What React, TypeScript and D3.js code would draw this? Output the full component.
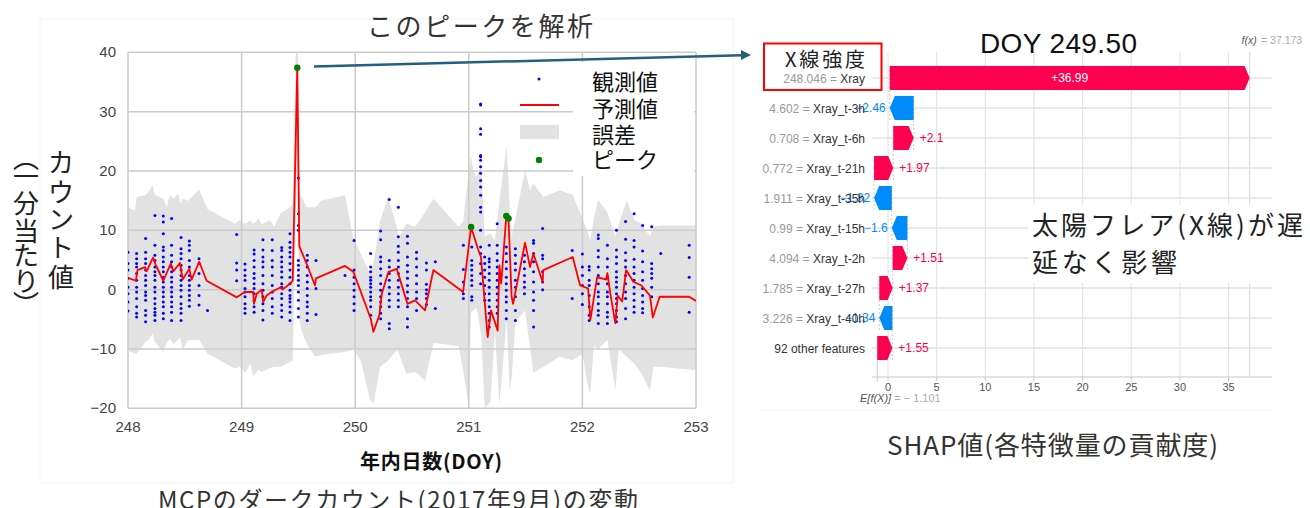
import React from 'react';
import * as d3 from 'd3';

// ---------- Left chart data ----------
const xTicks = [248, 249, 250, 251, 252, 253];
const yTicks = [-20, -10, 0, 10, 20, 30, 40];

const obsDoy = [248.0, 248.076, 248.155, 248.237, 248.311, 248.384, 248.467, 248.54, 248.625, 248.7,
  248.957, 249.03, 249.11, 249.188, 249.27, 249.353, 249.426, 249.5, 249.578, 249.655,
  249.91, 249.99, 250.136, 250.224, 250.3, 250.38, 250.46, 250.54, 250.627, 250.705,
  250.952, 251.026, 251.104, 251.14, 251.18, 251.25, 251.33, 251.41, 251.49, 251.57,
  251.65, 251.91, 252.0, 252.06, 252.14, 252.22, 252.3, 252.38, 252.455, 252.53, 252.61, 252.69, 252.94];

const obsValues: number[][] = [
  [6.3, 4.4, 3.3, 1.9, 0.4, -0.7, -2.1, -3.6],
  [6.1, 5.2, 4.4, 3.8, 2.7, 1.6, 0.4, -0.4, -1.5, -2.9, -4.0, -4.6],
  [8.6, 6.3, 5.2, 4.4, 3.3, 2.4, 1.6, 0.7, -0.4, -1.0, -1.8, -3.5, -4.3, -5.4],
  [12.5, 7.5, 5.8, 4.9, 3.8, 3.0, 2.4, 1.6, 0.4, -0.4, -1.5, -2.4, -3.2, -3.8, -4.3, -5.2],
  [12.4, 11.4, 9.4, 7.2, 6.6, 5.5, 4.7, 3.8, 3.0, 2.1, 1.3, 0.4, -0.4, -1.2, -2.1, -2.9, -4.0, -4.9],
  [12.0, 7.5, 5.8, 4.7, 3.8, 3.0, 2.1, 1.3, 0.4, -0.4, -1.2, -2.1, -2.9, -3.8, -5.2],
  [8.8, 6.9, 6.1, 5.2, 4.1, 3.3, 2.4, 1.6, 0.7, -0.1, -1.2, -2.4, -3.2, -4.0, -5.2],
  [8.2, 7.5, 6.6, 4.9, 3.8, 2.4, 1.6, 0.7, -0.1, -1.0, -1.8, -2.8],
  [5.2, 4.4, 2.7, 0.7, -1.0, -2.6],
  [-3.5],
  [9.3, 4.5, 3.3, 1.5],
  [4.3, 3.3, 2.4, 1.6, 0.2, -0.4, -1.2, -2.4, -3.2, -4.0],
  [6.7, 6.0, 4.9, 3.8, 2.7, 1.9, 1.0, 0.2, -0.7, -1.8, -2.9, -3.8],
  [8.4, 6.7, 5.5, 4.7, 3.8, 2.4, 1.0, -0.1, -1.2, -2.4, -3.5, -5.1],
  [8.4, 6.6, 4.9, 3.8, 2.4, 0.7, -0.4, -1.5, -2.9, -4.0],
  [7.1, 6.6, 5.5, 4.7, 3.8, 3.0, 2.1, 1.0, 0.4, -0.7, -1.5, -2.6, -3.5, -4.6],
  [9.4, 8.0, 7.1, 6.3, 5.5, 4.4, 3.3, 2.1, 1.0, -0.1, -1.0, -1.5, -2.1, -2.9, -3.8, -5.2],
  [18.8, 12.8, 10.8, 10.0, 4.9, 4.1, 3.3, 2.4, 1.6, 0.7, -0.4, -1.8, -3.2, -4.6],
  [5.8, 4.9, 3.8, 2.4, 1.3, 0.2, -1.0, -2.1, -2.9, -4.0, -5.2],
  [4.9, 0.2, -4.2],
  [2.4],
  [8.3, 3.3, 2.1, 1.0, -0.1, -1.2, -2.4, -3.5],
  [6.1, 3.8, 3.0, 2.1, 1.6, 1.0, 0.4, -0.4, -1.2, -1.8, -2.9, -4.3],
  [9.9, 8.4, 5.5, 4.7, 3.5, 2.4, 1.0, -0.1, -1.2, -2.1, -2.9, -4.0, -4.9],
  [15.2, 4.9, 3.8, 2.7, 1.6, 0.4, -0.7, -1.8, -2.9, -5.7, -6.6],
  [13.9, 8.9, 7.3, 6.3, 4.9, 3.8, 2.7, 1.6, 0.4, -0.7, -1.8, -2.9],
  [9.0, 7.8, 5.5, 4.1, 3.0, 1.9, 0.7, -0.4, -1.5, -2.9, -4.9, -6.3],
  [6.3, 5.2, 3.8, 2.4, 1.0, -0.4, -1.5, -3.5],
  [4.5, 3.3, 0.9, 0, -0.7, -1.5, -2.5],
  [4.7, -3.2],
  [7.5, 3.4, 1.3, -0.7, -1.5],
  [7.2, 4.9, 4.1, 3.3, 2.4, 1.6, 0.7, -1.2, -1.8],
  [31.3, 31.1, 27.1, 26.2, 22.6, 22.4, 21.8, 20.7, 19.6, 18.4, 17.3, 15.9, 13.9, 13.1, 10.0, 7.2, 6.1, 4.4, 2.7, 1.0],
  [5.5, 4.4, 3.3, 2.1, 0.7, -0.7, -1.8],
  [7.5, 5.2, 4.7, 3.8, 2.7, 1.6, 0.4, -0.7, -1.8, -2.9, -4.0, -5.2, -6.3],
  [11.1, 7.5, 6.1, 4.9, 3.8, 2.7, 1.6, 0.4, -0.7, -1.8, -2.9, -4.0],
  [12.5, 7.2, 6.1, 4.7, 3.5, 2.1, 1.0, -0.1, -1.2, -2.1, -3.5, -4.9],
  [6.9, 5.8, 4.4, 3.3, 1.6, 0.4, -1.2, -3.5, -5.2],
  [5.8, 4.7, 3.5, 2.4, 1.3, 0.4, -0.7],
  [8.3, 7.8, 6.1, 4.7, 3.0, 1.3, -0.4, -1.8, -3.5, -6.3],
  [10.3, 5.8, 5.2, 3.0, 1.3, 0],
  [6.6, -1.5],
  [6.0, 3.8, 2.4, 0.7, -0.7, -2.5],
  [3.9, 3.3, 1.6, 0.7, -1.0, -2.9, -4.3, -5.2],
  [9.2, 8.6, 6.6, 5.5, 3.8, 2.4, 1.0, -0.4, -1.2, -2.4, -3.5, -4.3, -5.7],
  [7.5, 5.2, 3.8, 2.1, 1.0, -0.4, -1.2, -2.4, -3.8, -4.6, -5.7],
  [10.0, 6.7, 5.5, 4.4, 3.0, 2.1, 1.3, 0.4, -0.7, -1.5, -2.4, -3.5, -4.6, -5.4],
  [11.5, 8.5, 6.2, 4.9, 3.8, 2.4, 1.0, -0.4, -1.5, -3.2, -4.9],
  [12.8, 8.3, 7.2, 5.1, 3.8, 2.7, 1.6, 0.4, -0.7, -1.8, -2.9, -3.8],
  [10.8, 6.5, 4.7, 3.0, 1.6, 0.2, -1.0, -2.1, -3.2, -3.9],
  [10.6, 4.4, 3.5, 2.7, 1.9, 0.4, -1.2],
  [6.1],
  [7.5, 5.4, 2.1, -3.8],
];

const predDoy = [248.0, 248.07, 248.083, 248.15, 248.165, 248.22, 248.25, 248.311, 248.376, 248.4,
  248.458, 248.481, 248.54, 248.56, 248.627, 248.692, 248.957, 249.03, 249.103, 249.109,
  249.133, 249.177, 249.19, 249.22, 249.264, 249.343, 249.36, 249.426, 249.45, 249.49,
  249.508, 249.572, 249.646, 249.655, 249.91, 249.984, 250.137, 250.16, 250.213, 250.234,
  250.293, 250.366, 250.46, 250.527, 250.615, 250.688, 250.95, 251.02, 251.08, 251.107,
  251.166, 251.195, 251.254, 251.269, 251.285, 251.33, 251.35, 251.377, 251.39, 251.495,
  251.539, 251.568, 251.65, 251.656, 251.915, 251.98, 252.05, 252.07, 252.13, 252.21,
  252.22, 252.245, 252.29, 252.31, 252.35, 252.385, 252.45, 252.52, 252.595, 252.62,
  252.68, 252.94, 253.0];
const predVal = [2.0, 1.5, 3.3, 3.8, 3.1, 5.4, 3.9, 1.5, 4.4, 3.1,
  4.5, 1.7, 3.5, 1.7, 4.7, 1.5, -1.3, -0.4, -0.4, -2.4,
  -0.7, 0, -2.1, -1.0, -0.4, 0.4, 0, 1.0, 1.5, 37.4,
  7.3, 4.4, 0.7, 1.9, 4.0, 3.0, -4.9, -7.1, -4.3, -0.7,
  3.0, 3.5, -2.4, -1.8, -3.5, 3.3, -0.4, 10.55, 6.9, 5.5,
  -8.0, -3.5, -6.9, 4.1, 1.0, 12.4, 11.5, -1.2, -2.4, 7.9,
  3.8, 6.1, 1.3, 3.3, 5.5, 0.7, 0.2, -5.1, 2.1, 1.7,
  2.8, -0.6, -5.7, -1.0, -2.0, 3.3, 1.3, 0.7, -1.0, -4.7,
  -1.2, -1.2, -1.9];

const bandDoy = [248.0, 248.06, 248.076, 248.155, 248.18, 248.218, 248.235, 248.311, 248.34, 248.37,
  248.4, 248.443, 248.46, 248.48, 248.53, 248.604, 248.627, 248.7, 248.94, 248.985,
  249.03, 249.08, 249.1, 249.147, 249.177, 249.25, 249.29, 249.34, 249.426, 249.45,
  249.49, 249.51, 249.53, 249.57, 249.646, 249.7, 249.91, 249.98, 250.05, 250.13,
  250.16, 250.22, 250.29, 250.366, 250.38, 250.45, 250.527, 250.615, 250.688, 250.91,
  250.95, 251.0, 251.02, 251.04, 251.07, 251.11, 251.14, 251.19, 251.23, 251.27,
  251.333, 251.36, 251.377, 251.41, 251.495, 251.54, 251.568, 251.656, 251.8, 251.915,
  252.0, 252.05, 252.07, 252.1, 252.14, 252.22, 252.29, 252.32, 252.39, 252.46,
  252.52, 252.595, 252.625, 252.68, 253.0];
const bandLo = [-10.2, -10.8, -10.8, -8.8, -8.5, -7.4, -8.8, -10.5, -9.0, -8.3,
  -9.1, -8.4, -8.0, -10.2, -8.5, -8.5, -8.5, -10.8, -13.3, -13.0,
  -14.0, -12.5, -14.7, -13.5, -13.9, -13.2, -13.0, -13.0, -12.2, -12.0,
  24, -5.2, -7.0, -9.0, -11.3, -11.0, -10.5, -10.0, -12.0, -18.5,
  -19.2, -13.0, -12.0, -10.2, -10.5, -14.2, -13.9, -15.3, -9.0, -9.5,
  -13.6, -20.0, -4.0, -3.5, -3.0, -8.0, -20.0, -19.0, -7.0, -19.5,
  -5.0, -17.0, -15.0, -5.5, -3.5, -10.0, -14.0, -13.0, -11.3, -11.9,
  -10.8, -16.4, -17.5, -9.5, -10.0, -8.5, -17.0, -10.0, -11.3, -12.5,
  -14.2, -17.0, -13.0, -13.0, -13.6];
const bandHi = [13.9, 13.4, 15.6, 15.9, 16.5, 17.6, 16.0, 15.3, 13.9, 16.0,
  15.3, 16.2, 14.5, 15.3, 15.0, 16.5, 16.8, 13.6, 11.1, 11.7,
  11.1, 11.7, 11.0, 12.0, 11.0, 11.7, 10.6, 12.8, 13.9, 14.5,
  52, 16.0, 15.6, 13.9, 13.9, 15.0, 15.9, 8.9, 6.0, 2.7,
  4.4, 11.7, 15.6, 10.5, 8.6, 11.1, 10.6, 13.0, 15.3, 10.6,
  11.5, 20.0, 22.6, 20.0, 19.0, 21.0, 8.9, 9.5, 8.3, 15.0,
  24.3, 14.0, 8.9, 12.0, 20.1, 16.7, 17.9, 15.6, 16.7, 16.0,
  12.0, 9.5, 8.3, 12.0, 15.1, 13.0, 8.9, 11.0, 15.1, 11.7,
  11.1, 8.9, 10.6, 10.8, 10.8];

const peakDoy = [249.49, 251.02, 251.33, 251.35];
const peakVal = [37.4, 10.55, 12.4, 12.0];

const legendLabels = ['観測値', '予測値', '誤差', 'ピーク'];

// ---------- SHAP data ----------
const shapFeatureValues = ['248.046', '4.602', '0.708', '0.772', '1.911', '0.99', '4.094', '1.785', '3.226', ''];
const shapFeatureNames = ['Xray', 'Xray_t-3h', 'Xray_t-6h', 'Xray_t-21h', 'Xray_t-35h', 'Xray_t-15h', 'Xray_t-2h', 'Xray_t-27h', 'Xray_t-40h', '92 other features'];
const shapValues = [36.99, -2.46, 2.1, 1.97, -1.82, -1.6, 1.51, 1.37, -1.34, 1.55];
const shapLabels = ['+36.99', '−2.46', '+2.1', '+1.97', '−1.82', '−1.6', '+1.51', '+1.37', '−1.34', '+1.55'];
const shapTicks = [0, 5, 10, 15, 20, 25, 30, 35];
const baseValue = -1.101;
const fxValue = 37.173;

const JP = "'Noto Sans CJK JP', 'Noto Sans', sans-serif";
const LAT = "'Liberation Sans', Arial, sans-serif";
const RED = '#ff0051';
const BLUE = '#008bfb';

const fmt = (t: number) => (t < 0 ? '−' + Math.abs(t) : String(t));

export default function App() {
  // left chart scales
  const x = d3.scaleLinear().domain([248, 253]).range([128, 696]);
  const y = d3.scaleLinear().domain([-20, 40]).range([408.3, 52.3]);
  const bandPts = bandDoy.map((d, i) => ({ d, lo: bandLo[i], hi: bandHi[i] }));
  const area = d3.area<any>().x((p) => x(p.d)).y0((p) => y(p.lo)).y1((p) => y(p.hi));
  const predPts = predDoy.map((d, i) => ({ d, v: predVal[i] }));
  const line = d3.line<any>().x((p) => x(p.d)).y((p) => y(p.v));

  const obsPts: { d: number; v: number }[] = [];
  obsDoy.forEach((d, i) => obsValues[i].forEach((v) => obsPts.push({ d, v })));

  // SHAP scales
  const xs = d3.scaleLinear().domain([0, 35]).range([888, 888 + 35 * 9.73]);
  const rowY = d3.scalePoint<string>().domain(shapFeatureNames).range([78, 348]);
  const barH = 24;
  const head = 5;
  // cumulative from bottom
  const n = shapValues.length;
  const starts: number[] = new Array(n);
  const ends: number[] = new Array(n);
  let cum = baseValue;
  for (let i = n - 1; i >= 0; i--) {
    starts[i] = cum;
    ends[i] = cum + shapValues[i];
    cum = ends[i];
  }

  const barPath = (i: number) => {
    const yc = rowY(shapFeatureNames[i])!;
    const a = xs(starts[i]);
    const b = xs(ends[i]);
    const t = yc - barH / 2;
    const bt = yc + barH / 2;
    if (shapValues[i] >= 0) {
      const hl = Math.min(head, b - a);
      return `M${a},${t}L${b - hl},${t}L${b},${yc}L${b - hl},${bt}L${a},${bt}Z`;
    }
    const hl = Math.min(head, a - b);
    return `M${a},${t}L${b + hl},${t}L${b},${yc}L${b + hl},${bt}L${a},${bt}Z`;
  };

  const yLabel1 = ['カ', 'ウ', 'ン', 'ト', '値'];
  const yLabel1Y = [160, 190, 217, 245, 275];
  const yLabel2 = ['︵', '一', '分', '当', 'た', 'り', '︶'];
  const yLabel2Y = [156, 174, 201, 229, 253, 279, 302];

  return (
    <svg width={1310} height={508} style={{ position: 'absolute', left: 0, top: 0, background: '#fff' }}>
      <defs>
        <clipPath id="plotClip">
          <rect x={128} y={52.3} width={568} height={356} />
        </clipPath>
      </defs>
      <rect x={0} y={0} width={1310} height={508} fill="#fff" />
      {/* faint panel outlines */}
      <rect x={40} y={19} width={693} height={464} fill="none" stroke="#f3f3f3" strokeWidth={1} />
      <line x1={760} x2={1273} y1={410} y2={410} stroke="#f3f3f3" strokeWidth={1} />

      {/* ---------- Left chart ---------- */}
      <g clipPath="url(#plotClip)">
        <path d={area(bandPts) || ''} fill="#e2e2e2" />
      </g>
      {xTicks.map((t) => (
        <line key={'gx' + t} x1={x(t)} x2={x(t)} y1={y(40)} y2={y(-20)} stroke="#cbcbcb" strokeWidth={1.5} />
      ))}
      {yTicks.map((t) => (
        <line key={'gy' + t} x1={x(248)} x2={x(253)} y1={y(t)} y2={y(t)} stroke="#cbcbcb" strokeWidth={1.5} />
      ))}
      {xTicks.map((t) => (
        <text key={'tx' + t} x={x(t)} y={432} textAnchor="middle" fontFamily={LAT} fontSize={15} fill="#444">
          {t}
        </text>
      ))}
      {yTicks.map((t) => (
        <text key={'ty' + t} x={116} y={y(t) + 5} textAnchor="end" fontFamily={LAT} fontSize={15} fill="#444">
          {fmt(t)}
        </text>
      ))}
      <g clipPath="url(#plotClip)">
        {obsPts.map((p, i) => (
          <circle key={'o' + i} cx={x(p.d)} cy={y(p.v)} r={1.5} fill="#0000ff" />
        ))}
        <path d={line(predPts) || ''} fill="none" stroke="#ff0000" strokeWidth={1.8} strokeLinejoin="round" />
        {peakDoy.map((d, i) => (
          <circle key={'pk' + i} cx={x(d)} cy={y(peakVal[i])} r={3.2} fill="#008000" />
        ))}
      </g>

      {/* legend markers */}
      <circle cx={539} cy={79} r={1.5} fill="#0000ff" />
      <line x1={520} x2={559} y1={105} y2={105} stroke="#ff0000" strokeWidth={1.8} />
      <rect x={520} y={125} width={39} height={14} fill="#e2e2e2" />
      <circle cx={539} cy={160} r={3.2} fill="#008000" />
      <rect x={573} y={62} width={121} height={114} fill="#fff" />
      {legendLabels.map((l, i) => (
        <text key={'lg' + i} x={592} y={[90, 117, 143, 168][i]} fontFamily={JP} fontSize={22} fill="#111">
          {l}
        </text>
      ))}

      {/* axis labels */}
      <text x={360} y={469} fontFamily={JP} fontSize={20} fontWeight="bold" fill="#111" textLength={142} lengthAdjust="spacing">
        年内日数(DOY)
      </text>
      {yLabel1.map((c, i) => (
        <text key={'yl1' + i} x={61} y={yLabel1Y[i]} textAnchor="middle" dominantBaseline="central" fontFamily={JP} fontSize={26} fill="#222">
          {c}
        </text>
      ))}
      {yLabel2.map((c, i) => (
        <text key={'yl2' + i} x={26} y={yLabel2Y[i]} textAnchor="middle" dominantBaseline="central" fontFamily={JP} fontSize={26} fill="#222">
          {c}
        </text>
      ))}

      {/* titles */}
      <text x={367} y={36} fontFamily={JP} fontSize={26} fill="#333" textLength={226} lengthAdjust="spacing">
        このピークを解析
      </text>
      <text x={158} y={509} fontFamily={JP} fontSize={24} fill="#333" textLength={480} lengthAdjust="spacing">
        MCPのダークカウント(2017年9月)の変動
      </text>

      {/* arrow */}
      <line x1={314} y1={66.5} x2={742} y2={55.2} stroke="#245f80" strokeWidth={2.5} />
      <path d="M751,55 L741,50 L741,60 Z" fill="#245f80" />

      {/* ---------- SHAP chart ---------- */}
      {shapTicks.map((t) => (
        <line key={'sg' + t} x1={xs(t)} x2={xs(t)} y1={52} y2={377} stroke="#e4e4e4" strokeWidth={1.2} />
      ))}
      <line x1={xs(fxValue)} x2={xs(fxValue)} y1={52} y2={377} stroke="#d6d6d6" strokeWidth={1} />
      <line x1={xs(baseValue)} x2={xs(baseValue)} y1={336} y2={382} stroke="#cfcfcf" strokeWidth={1} />
      {shapFeatureNames.map((f) => (
        <line key={'sr' + f} x1={872} x2={1272} y1={rowY(f)} y2={rowY(f)} stroke="#e2e2e2" strokeWidth={1.3} />
      ))}
      {shapFeatureNames.slice(0, n - 1).map((f, i) => (
        <line key={'con' + i} x1={xs(starts[i])} x2={xs(starts[i])} y1={rowY(f)! - 12} y2={rowY(shapFeatureNames[i + 1])! + 12}
          stroke="#bbbbbb" strokeWidth={0.8} strokeDasharray="2,2" />
      ))}
      <line x1={872} x2={1272} y1={377} y2={377} stroke="#c8c8c8" strokeWidth={1} />
      {shapTicks.map((t) => (
        <line key={'stk' + t} x1={xs(t)} x2={xs(t)} y1={377} y2={381} stroke="#c8c8c8" strokeWidth={1} />
      ))}
      {shapTicks.map((t) => (
        <text key={'st' + t} x={xs(t)} y={391} textAnchor="middle" fontFamily={LAT} fontSize={11} fill="#555">
          {t}
        </text>
      ))}
      {shapValues.map((v, i) => (
        <path key={'bar' + i} d={barPath(i)} fill={v >= 0 ? RED : BLUE} />
      ))}
      {shapValues.map((v, i) => {
        const yc = rowY(shapFeatureNames[i])! + 4;
        const w = Math.abs(xs(ends[i]) - xs(starts[i]));
        if (w > 60) {
          return (
            <text key={'sl' + i} x={(xs(starts[i]) + xs(ends[i])) / 2} y={yc} textAnchor="middle" fontFamily={LAT} fontSize={12} fill="#fff">
              {shapLabels[i]}
            </text>
          );
        }
        return v >= 0 ? (
          <text key={'sl' + i} x={xs(ends[i]) + 6} y={yc} fontFamily={LAT} fontSize={12} fill={RED}>
            {shapLabels[i]}
          </text>
        ) : (
          <text key={'sl' + i} x={xs(ends[i]) - 4} y={yc} textAnchor="end" fontFamily={LAT} fontSize={12} fill={BLUE}>
            {shapLabels[i]}
          </text>
        );
      })}
      {shapFeatureNames.map((f, i) => (
        <text key={'fn' + i} x={865} y={rowY(f)! + 4.5} textAnchor="end" fontFamily={LAT} fontSize={12}>
          {shapFeatureValues[i] ? <tspan fill="#999">{shapFeatureValues[i] + ' = '}</tspan> : null}
          <tspan fill="#333">{f}</tspan>
        </text>
      ))}
      <text x={1241.5} y={44} fontFamily={LAT} fontSize={10.5} fill="#555" fontStyle="italic">f(x)</text>
      <text x={1261} y={44} fontFamily={LAT} fontSize={10.5} fill="#aaa">= {fxValue.toFixed(3)}</text>
      <text x={860} y={402} fontFamily={LAT} fontSize={11} fill="#555">
        <tspan fontStyle="italic">E[f(X)]</tspan>
        <tspan fill="#aaa">{' = − ' + Math.abs(baseValue).toFixed(3)}</tspan>
      </text>

      <text x={980} y={53} fontFamily={LAT} fontSize={28} fill="#111" textLength={157} lengthAdjust="spacing">
        DOY 249.50
      </text>

      {/* red box */}
      <rect x={764} y={43.5} width={117.5} height={46.5} fill="none" stroke="#ff0000" strokeWidth={2} />
      <text x={785} y={67} fontFamily={JP} fontSize={20} fill="#222" textLength={80} lengthAdjust="spacing">
        X線強度
      </text>

      {/* annotation */}
      <rect x={1028} y={205} width={282} height={78} fill="#fff" />
      <text x={1032} y={235} fontFamily={JP} fontSize={26} fill="#222" textLength={271} lengthAdjust="spacing">
        太陽フレア(X線)が遅
      </text>
      <text x={1032} y={272} fontFamily={JP} fontSize={26} fill="#222" textLength={145} lengthAdjust="spacing">
        延なく影響
      </text>

      <text x={887} y={455} fontFamily={JP} fontSize={26} fill="#333" textLength={331} lengthAdjust="spacing">
        SHAP値(各特徴量の貢献度)
      </text>
    </svg>
  );
}
